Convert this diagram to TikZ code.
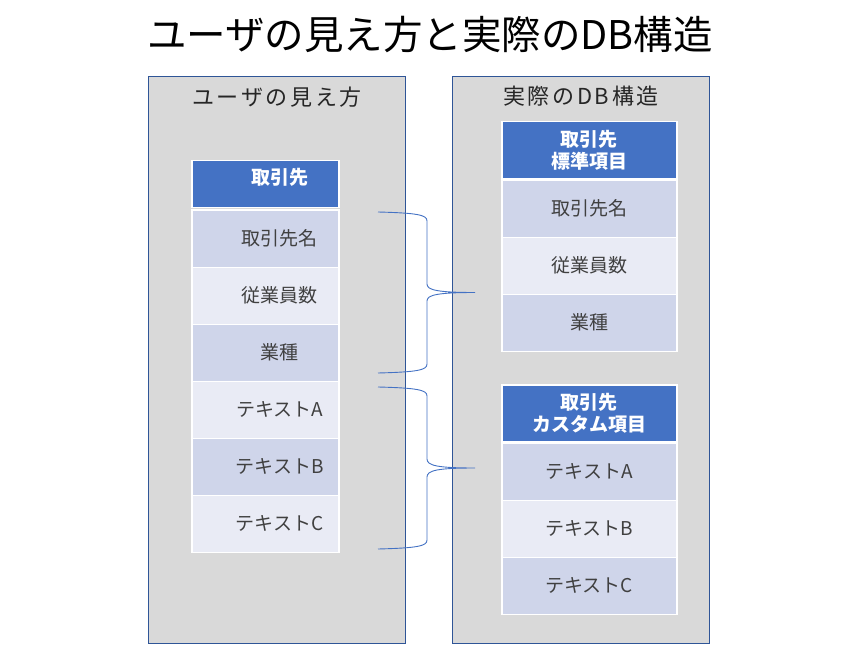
\documentclass[tikz,border=0pt]{standalone}
\usepackage{fontspec}
\setmainfont{Noto Sans CJK JP}
\newfontfamily\spacedfont[LetterSpace=12]{Noto Sans CJK JP}
\usetikzlibrary{calc}
\definecolor{hdr}{HTML}{4472C4}
\definecolor{rowA}{HTML}{CFD5EA}
\definecolor{rowB}{HTML}{E9EBF5}
\definecolor{panelfill}{HTML}{D9D9D9}
\definecolor{panelline}{HTML}{2F5597}
\definecolor{bracecol}{HTML}{4472C4}
\definecolor{celltext}{HTML}{404040}
\begin{document}
\begin{tikzpicture}[x=1pt,y=-1pt,
  panel/.style={draw=panelline, fill=panelfill, line width=0.8pt, anchor=north west,
    minimum width=257pt, minimum height=567pt, inner sep=0pt},
  ptitle/.style={font=\spacedfont\fontsize{22}{26}\selectfont, text=black!85},
  cell/.style={draw=white, line width=1.5pt, anchor=north west, inner sep=0pt,
    minimum height=57pt, text=celltext, font=\fontsize{19}{22}\selectfont},
  shifted/.style={execute at begin node={\hspace*{29pt}}},
  lcell/.style={cell, minimum width=147pt, shifted},
  rcell/.style={cell, minimum width=175pt},
  hdrbase/.style={draw=white, line width=1.5pt, anchor=north west, inner sep=0pt,
    fill=hdr, text=white, font=\bfseries\fontsize{19}{21.5}\selectfont},
  rhdr/.style={hdrbase, align=center, minimum width=175pt, minimum height=57pt},
  bracepath/.style={draw=bracecol, line width=0.9pt}
]
\useasboundingbox[fill=white] (0,0) rectangle (852,666);

% title
\node[font=\fontsize{39.5}{46}\selectfont, text=black] (title) at (430,35) {ユーザの見え方と実際のDB構造};

% panels
\node[panel] (lp) at (148,76) {};
\node[panel] (rp) at (452,76) {};
\node[ptitle] (lpt) at (277,97) {ユーザの見え方};
\node[ptitle] (rpt) at (581,96) {実際のDB構造};

% left table
\node[hdrbase, shifted, minimum width=147pt, minimum height=47pt, text height=14pt, text depth=13pt] (lh) at (191,160) {取引先};
\node[lcell, fill=rowA] (l1) at (191,209.5) {取引先名};
\node[lcell, fill=rowB] (l2) at (191,266.5) {従業員数};
\node[lcell, fill=rowA] (l3) at (191,323.5) {業種};
\node[lcell, fill=rowB] (l4) at (191,380.5) {テキストA};
\node[lcell, fill=rowA] (l5) at (191,437.5) {テキストB};
\node[lcell, fill=rowB] (l6) at (191,494.5) {テキストC};

% right table 1
\node[rhdr] (rh1) at (501,121) {取引先\\標準項目};
\node[rcell, fill=rowA] (r1) at (501,179.5) {取引先名};
\node[rcell, fill=rowB] (r2) at (501,236.5) {従業員数};
\node[rcell, fill=rowA] (r3) at (501,293.5) {業種};

% right table 2
\node[rhdr] (rh2) at (501,384) {取引先\\カスタム項目};
\node[rcell, fill=rowA] (r4) at (501,442.5) {テキストA};
\node[rcell, fill=rowB] (r5) at (501,499.5) {テキストB};
\node[rcell, fill=rowA] (r6) at (501,556.5) {テキストC};

% braces
\coordinate (b1t) at (378,212);
\coordinate (b1b) at (378,373);
\coordinate (b1m) at (475,292.5);
\coordinate (b2t) at (378,387);
\coordinate (b2b) at (378,549);
\coordinate (b2m) at (475,468);

\draw[bracepath] (b1t) .. controls (418,213) and (427,215) .. (427,221)
  -- (427,284) .. controls (427,290) and (437,292.5) .. (b1m)
  .. controls (437,292.5) and (427,295) .. (427,301)
  -- (427,364) .. controls (427,370) and (418,372) .. (b1b);
\draw[bracepath] (b2t) .. controls (418,388) and (427,390) .. (427,396)
  -- (427,459) .. controls (427,465.5) and (437,468) .. (b2m)
  .. controls (437,468) and (427,470.5) .. (427,477)
  -- (427,540) .. controls (427,546) and (418,548) .. (b2b);
\end{tikzpicture}
\end{document}
